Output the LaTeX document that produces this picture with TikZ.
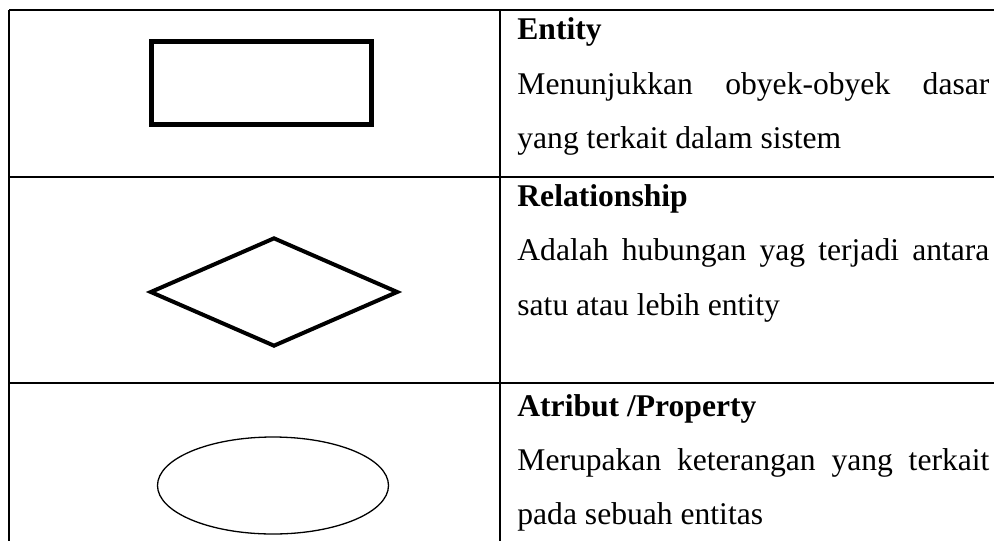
\documentclass[tikz,border=0pt]{standalone}
\usepackage{fontspec}
\setmainfont{Liberation Serif}
\usetikzlibrary{shapes.geometric}

\begin{document}
\begin{tikzpicture}[x=0.5pt,y=-0.5pt,
	grid/.style={line width=1pt},
	entitybox/.style={draw,rectangle,line width=2.5pt,minimum width=110pt,minimum height=41.5pt,inner sep=0},
	relbox/.style={draw,diamond,line width=2pt,minimum width=124pt,minimum height=54.5pt,inner sep=0},
	attrbox/.style={draw,ellipse,line width=0.65pt,minimum width=115.5pt,minimum height=48.5pt,inner sep=0},
	txt/.style={anchor=base west,inner sep=0,font=\fontsize{15.8}{18}\selectfont},
	head/.style={txt,font=\fontsize{15.8}{18}\selectfont\bfseries}]

\useasboundingbox (0,0) rectangle (994,541);

% table
\coordinate (tl) at (9,10);
\coordinate (tm) at (500,10);
\coordinate (tr) at (994,10);
\coordinate (bl) at (9,541);
\coordinate (bm) at (500,541);
\coordinate (al) at (9,176.5);
\coordinate (ar) at (994,176.5);
\coordinate (cl) at (9,383);
\coordinate (cr) at (994,383);
\draw[grid](tl)--(tr) (al)--(ar) (cl)--(cr) (tl)--(bl) (tm)--(bm);

% symbols
\node[entitybox](entity) at (261.5,83){};
\node[relbox](rel) at (274,292){};
\node[attrbox](attr) at (273,485.5){};

% texts
\node[head](h1) at (517,39){Entity};
\node[txt](t11) at (517,94){\makebox[236pt][s]{Menunjukkan obyek-obyek dasar}};
\node[txt](t12) at (517,148){yang terkait dalam sistem};
\node[head](h2) at (517,206){Relationship};
\node[txt](t21) at (517,260){\makebox[236pt][s]{Adalah hubungan yag terjadi antara}};
\node[txt](t22) at (517,315){satu atau lebih entity};
\node[head](h3) at (517,416){Atribut /Property};
\node[txt](t31) at (517,470){\makebox[236pt][s]{Merupakan keterangan yang terkait}};
\node[txt](t32) at (517,524){pada sebuah entitas};

\end{tikzpicture}
\end{document}
